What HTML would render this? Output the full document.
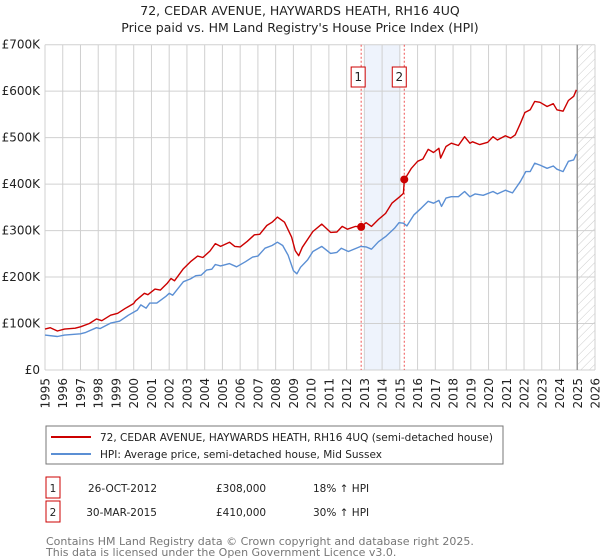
<!DOCTYPE html>
<html><head><meta charset="utf-8"><style>
body{margin:0;background:#fff;font-family:"DejaVu Sans","Liberation Sans",sans-serif;}
svg{display:block}
</style></head><body>
<svg id="chart" width="600" height="560" xmlns="http://www.w3.org/2000/svg" font-family="DejaVu Sans, Liberation Sans, sans-serif">
<defs><pattern id="hatch" patternUnits="userSpaceOnUse" width="6" height="6" patternTransform="rotate(45)"><line x1="0" y1="0" x2="0" y2="6" stroke="#ccc" stroke-width="1"/></pattern></defs>
<text x="300" y="15" text-anchor="middle" font-size="12.5" fill="#222">72, CEDAR AVENUE, HAYWARDS HEATH, RH16 4UQ</text>
<text x="300" y="32" text-anchor="middle" font-size="12.5" fill="#222">Price paid vs. HM Land Registry's House Price Index (HPI)</text>
<g id="grid"></g><g id="marks"></g>
<g>
<rect x="46" y="426" width="457" height="38" fill="#fff" stroke="#777"/>
<line x1="51" y1="437" x2="91" y2="437" stroke="#cc0000" stroke-width="2"/>
<text x="100" y="441" font-size="10.5" fill="#222">72, CEDAR AVENUE, HAYWARDS HEATH, RH16 4UQ (semi-detached house)</text>
<line x1="51" y1="454" x2="91" y2="454" stroke="#5b8fd4" stroke-width="2"/>
<text x="100" y="458" font-size="10.5" fill="#222">HPI: Average price, semi-detached house, Mid Sussex</text>
</g>
<g font-size="10.5" fill="#222">
<rect x="46" y="477" width="14" height="21" fill="#fff" stroke="#cc0000"/><text x="53" y="492" text-anchor="middle">1</text>
<text x="157" y="492" text-anchor="end">26-OCT-2012</text><text x="216" y="492">£308,000</text><text x="313" y="492">18% ↑ HPI</text></g>
<g font-size="10.5" fill="#222">
<rect x="46" y="501" width="14" height="21" fill="#fff" stroke="#cc0000"/><text x="53" y="516" text-anchor="middle">2</text>
<text x="157" y="516" text-anchor="end">30-MAR-2015</text><text x="216" y="516">£410,000</text><text x="313" y="516">30% ↑ HPI</text></g>
<text x="46" y="545" font-size="11" fill="#777">Contains HM Land Registry data © Crown copyright and database right 2025.</text>
<text x="46" y="556" font-size="11" fill="#777">This data is licensed under the Open Government Licence v3.0.</text>
</svg>
<script>
const yTicks=[0,100,200,300,400,500,600,700];
const yTickLabels=["£0","£100K","£200K","£300K","£400K","£500K","£600K","£700K"];
const xYears=[1995,1996,1997,1998,1999,2000,2001,2002,2003,2004,2005,2006,2007,2008,2009,2010,2011,2012,2013,2014,2015,2016,2017,2018,2019,2020,2021,2022,2023,2024,2025,2026];
const redT=[1995.0,1995.3,1995.7,1996.1,1996.7,1997.0,1997.5,1997.9,1998.2,1998.7,1999.1,1999.5,2000.0,2000.1,2000.6,2000.8,2001.2,2001.5,2001.9,2002.1,2002.3,2002.8,2003.2,2003.6,2003.9,2004.3,2004.6,2004.9,2005.4,2005.7,2006.0,2006.4,2006.8,2007.1,2007.5,2007.8,2008.1,2008.5,2008.9,2009.1,2009.3,2009.5,2010.1,2010.6,2011.1,2011.45,2011.75,2012.05,2012.5,2012.8,2013.1,2013.4,2013.8,2014.2,2014.55,2015.0,2015.2,2015.25,2015.65,2016.0,2016.3,2016.6,2016.9,2017.2,2017.3,2017.6,2017.9,2018.3,2018.65,2018.95,2019.1,2019.5,2019.95,2020.25,2020.5,2020.95,2021.25,2021.5,2021.8,2022.05,2022.35,2022.6,2022.9,2023.3,2023.65,2023.85,2024.2,2024.5,2024.8,2024.95];
const redV=[88,91,84,88,90,93,100,110,106,118,122,132,143,149,165,162,174,172,187,197,192,218,233,245,242,256,272,266,275,266,265,277,291,292,311,318,329,318,286,257,246,264,298,314,296,297,309,303,309,308,317,309,324,337,359,373,380,409,434,449,454,475,468,477,456,481,488,483,502,488,491,485,490,502,495,504,499,506,531,554,560,578,576,567,573,560,557,580,589,603];
const hpiT=[1995.0,1995.7,1996.1,1997.0,1997.3,1997.9,1998.1,1998.7,1999.2,1999.7,2000.2,2000.4,2000.7,2000.9,2001.3,2001.8,2002.0,2002.2,2002.8,2003.2,2003.5,2003.8,2004.1,2004.4,2004.6,2004.9,2005.4,2005.8,2006.3,2006.7,2007.0,2007.4,2007.8,2008.1,2008.4,2008.7,2009.0,2009.2,2009.4,2009.8,2010.1,2010.6,2011.1,2011.45,2011.7,2012.1,2012.8,2013.1,2013.4,2013.8,2014.2,2014.7,2014.95,2015.2,2015.4,2015.8,2016.2,2016.6,2016.9,2017.2,2017.35,2017.6,2017.9,2018.3,2018.65,2018.95,2019.25,2019.7,2020.25,2020.5,2020.95,2021.35,2021.8,2022.1,2022.35,2022.6,2022.9,2023.3,2023.65,2023.85,2024.2,2024.5,2024.8,2024.95];
const hpiV=[75,72,75,78,81,91,89,101,105,118,129,140,133,144,144,158,165,161,190,196,203,204,215,217,227,224,229,222,233,243,245,262,268,275,268,247,214,207,221,237,255,266,251,253,262,255,266,265,260,276,287,305,317,316,310,334,348,363,359,365,352,370,373,373,384,373,379,376,384,379,387,381,406,427,427,445,441,434,439,432,427,449,452,465];
const saleT=[2012.82,2015.25];
const saleV=[308,410];
const saleLabels=["1","2"];
const shadeRange=[2013.0,2015.0];
const forecastStart=2025.0;

const X0=45,X1=595,Y0=370,Y1=44.7;
const xs=t=>X0+(t-1995)*(X1-X0)/31;
const ys=v=>Y0-v*(Y0-Y1)/700;
const NS="http://www.w3.org/2000/svg";
function mk(tag,attrs,parent){const e=document.createElementNS(NS,tag);for(const k in attrs)e.setAttribute(k,attrs[k]);parent.appendChild(e);return e;}
const grid=document.getElementById('grid'),marks=document.getElementById('marks');
const sh=mk('rect',{x:xs(shadeRange[0]),y:Y1,width:xs(shadeRange[1])-xs(shadeRange[0]),height:Y0-Y1,fill:'#eef3fc'},grid);


const fc=mk('rect',{x:xs(forecastStart),y:Y1,width:X1-xs(forecastStart),height:Y0-Y1,fill:'url(#hatch)'},grid);


xYears.forEach(y=>{
  const l=mk('line',{x1:xs(y),x2:xs(y),y1:Y1,y2:Y0,stroke:'#d0d0d0'},grid);
  
  
  const t=mk('text',{x:0,y:0,transform:`translate(${xs(y)+4.5},378) rotate(-90)`,'text-anchor':'end','font-size':12,fill:'#222'},grid);
  t.textContent=y;
  
  
});
yTicks.forEach((v,i)=>{
  const l=mk('line',{x1:X0,x2:X1,y1:ys(v),y2:ys(v),stroke:'#d0d0d0'},grid);
  
  
  const t=mk('text',{x:40,y:ys(v)+4,'text-anchor':'end','font-size':12,fill:'#222'},grid);
  t.textContent=yTickLabels[i];
  
  
});
const fl=mk('line',{x1:xs(forecastStart),x2:xs(forecastStart),y1:Y1,y2:Y0,stroke:'#999','stroke-width':1.5},grid);


saleT.forEach((t,i)=>{
  const l=mk('line',{x1:xs(t),x2:xs(t),y1:Y1,y2:Y0,stroke:'#ee5555','stroke-dasharray':'2,2'},marks);
  
  
  const r=mk('rect',{x:xs(t)-(i==0?10:12),y:67,width:14,height:20,fill:'#fff',stroke:'#cc0000'},marks);
  
  
  const tx=mk('text',{x:xs(t)-(i==0?3:5),y:81,'text-anchor':'middle','font-size':12,fill:'#222'},marks);
  tx.textContent=saleLabels[i];
  
  
});
function path(T,V,color,name){
  const p=mk('path',{d:T.map((t,i)=>(i?'L':'M')+xs(t).toFixed(1)+','+ys(V[i]).toFixed(1)).join(''),fill:'none',stroke:color,'stroke-width':1.4,'stroke-linejoin':'round'},marks);
  
  
}
path(hpiT,hpiV,'#5b8fd4','hpi-line');
path(redT,redV,'#cc0000','price-paid-line');
saleT.forEach((t,i)=>{
  const c=mk('circle',{cx:xs(t),cy:ys(saleV[i]),r:4,fill:'#cc0000'},marks);
  
  
});
</script>
</body></html>
